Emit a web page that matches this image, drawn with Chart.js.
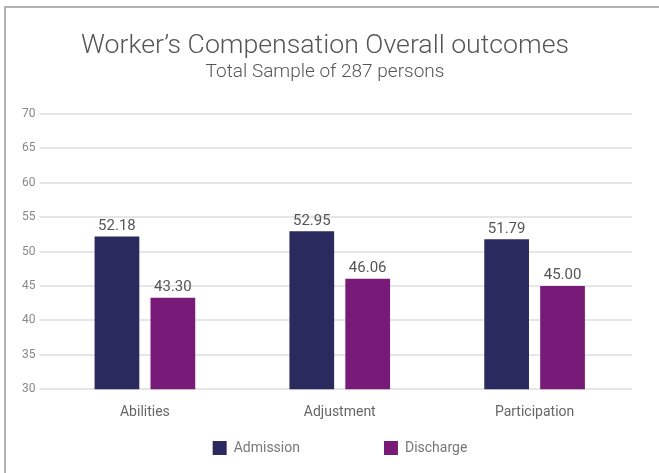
<!DOCTYPE html>
<html>
<head>
    <title>Worker's Compensation Overall outcomes</title>
    <script src="https://cdn.jsdelivr.net/npm/chart.js"></script>
    <style>
        body { margin: 0; background: #fff; }
        #wrap {
            position: absolute; left: 4px; top: 6px; width: 653px; height: 465px;
            border-top: 2px solid #b4b4b4; border-left: 2px solid #b4b4b4;
        }
    </style>
</head>
<body>
    <div id="wrap"><canvas id="outcomeChart"></canvas></div>

    <script>
        const categories = ['Abilities', 'Adjustment', 'Participation'];
        const admission = [52.18, 52.95, 51.79];
        const discharge = [43.30, 46.06, 45.00];
        const seriesNames = ['Admission', 'Discharge'];

        const fontFamily = 'Roboto, "Liberation Sans", sans-serif';
        const legendGap = 84;

        // draw the value above each bar
        const valueLabels = {
            id: 'valueLabels',
            afterDatasetsDraw(chart) {
                const ctx = chart.ctx;
                ctx.save();
                ctx.font = '15px ' + fontFamily;
                ctx.fillStyle = '#555';
                ctx.textAlign = 'center';
                ctx.textBaseline = 'bottom';
                chart.data.datasets.forEach((ds, i) => {
                    chart.getDatasetMeta(i).data.forEach((bar, j) => {
                        ctx.fillText(ds.data[j].toFixed(2), bar.x, bar.y - 3);
                    });
                });
                ctx.restore();
            }
        };

        // nudge a layout box sideways / downwards when it is drawn
        function shiftDraw(box, dx, dy) {
            const draw = box.draw;
            box.draw = function () {
                const t = this.top, l = this.left, r = this.right;
                this.top = t + dy; this.left = l + dx; this.right = r + dx;
                draw.call(this);
                this.top = t; this.left = l; this.right = r;
            };
        }

        // legend padding is used both across and down; keep the wide gap
        // between items but not the tall box
        const legendSpacing = {
            id: 'legendSpacing',
            beforeLayout(chart) {
                if (chart._patched) return;
                chart._patched = true;
                const lg = chart.legend;
                const fit = lg.fit;
                lg.fit = function () { fit.call(this); this.height = 37; };
                shiftDraw(lg, 15, 13 - legendGap);
                chart.boxes.filter(b => b.constructor.name === 'Title')
                    .forEach(b => shiftDraw(b, 12, 0));
            }
        };

        new Chart(document.getElementById('outcomeChart'), {
            type: 'bar',
            data: {
                labels: categories,
                datasets: [{
                    label: seriesNames[0],
                    data: admission,
                    backgroundColor: '#2b2a5e'
                }, {
                    label: seriesNames[1],
                    data: discharge,
                    backgroundColor: '#781b78'
                }]
            },
            options: {
                responsive: true,
                maintainAspectRatio: false,
                animation: false,
                categoryPercentage: 0.574,
                barPercentage: 0.8,
                layout: { padding: { left: 12, right: 27, top: 22, bottom: 8 } },
                plugins: {
                    title: {
                        display: true,
                        text: 'Worker\u2019s Compensation Overall outcomes',
                        color: '#555',
                        font: { family: fontFamily, size: 26.7, weight: 300 },
                        padding: { top: 0, bottom: 0 }
                    },
                    subtitle: {
                        display: true,
                        text: 'Total Sample of 287 persons',
                        color: '#555',
                        font: { family: fontFamily, size: 19, weight: 300, lineHeight: 1.05 },
                        padding: { top: 0, bottom: 32 }
                    },
                    legend: {
                        position: 'bottom',
                        labels: {
                            boxWidth: 14, boxHeight: 14, padding: legendGap,
                            color: '#777',
                            font: { family: fontFamily, size: 14 }
                        }
                    },
                    tooltip: { enabled: false }
                },
                scales: {
                    x: {
                        grid: { display: false },
                        border: { display: false },
                        ticks: { color: '#666', font: { family: fontFamily, size: 14 }, padding: 7 }
                    },
                    y: {
                        min: 30, max: 70,
                        ticks: { stepSize: 5, color: '#888', font: { family: fontFamily, size: 12 }, padding: 4 },
                        grid: { color: '#e6e6e6', lineWidth: 2, tickLength: 8 },
                        border: { display: false }
                    }
                }
            },
            plugins: [valueLabels, legendSpacing]
        });
    </script>
</body>
</html>
